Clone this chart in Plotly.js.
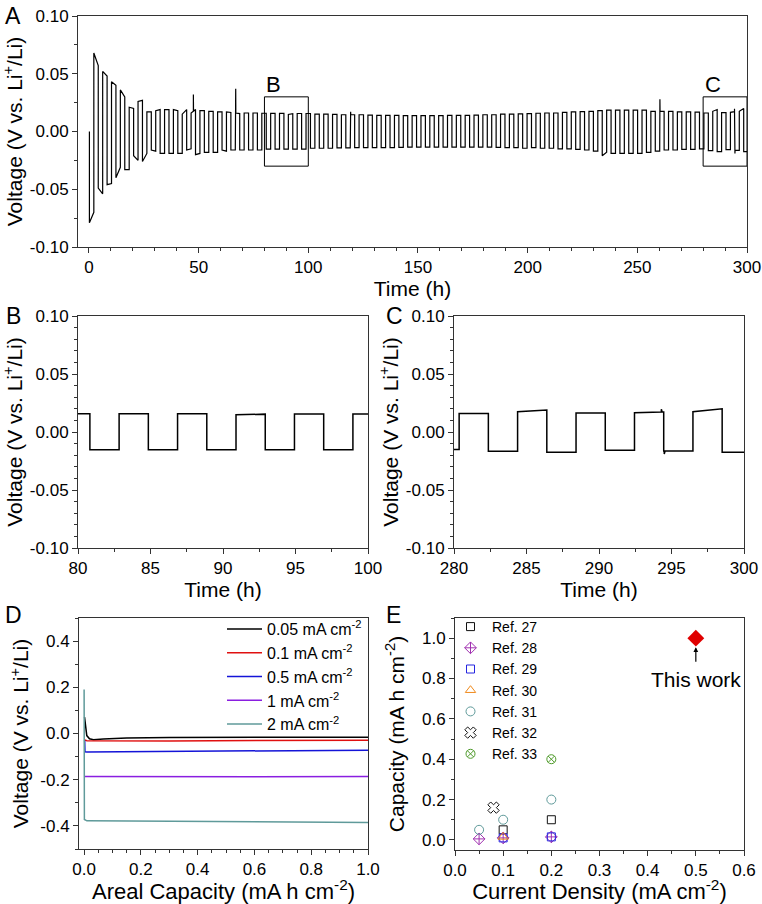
<!DOCTYPE html>
<html><head><meta charset="utf-8">
<script src="https://cdn.plot.ly/plotly-3.0.1.min.js"></script>
<style>html,body{margin:0;padding:0;background:#fff}#chart{width:762px;height:904px}</style>
</head><body><div id="chart"></div>
<script>
// ---------- Panels A/B/C : symmetric Li plating/stripping, plateau voltage per half-cycle ----------
const firstSwitchH = 0.2;    // first polarity switch (h)
const cyclePeriodH = 4.031;  // duration of one plating+stripping cycle (h)
const startV = 0.0;
const negStart = [-0.079,-0.049,-0.046,-0.040,-0.033,-0.021,-0.026,-0.016,-0.019,-0.019,
  -0.019,-0.016,-0.020,-0.018,-0.018,-0.016,-0.016,-0.016,-0.016,-0.016,
  -0.0152,-0.0152,-0.0152,-0.0152,-0.0152,-0.0145,-0.0145,-0.0145,-0.0142,-0.0142,
  -0.014,-0.014,-0.014,-0.014,-0.014,-0.0138,-0.0135,-0.0135,-0.0135,-0.0135,
  -0.0135,-0.0135,-0.0135,-0.0135,-0.0135,-0.0135,-0.0138,-0.014,-0.014,-0.0145,
  -0.014,-0.0145,-0.0145,-0.015,-0.015,-0.0155,-0.016,-0.017,-0.021,-0.019,
  -0.019,-0.019,-0.019,-0.018,-0.017,-0.016,-0.016,-0.0155,-0.0155,-0.015,
  -0.0166,-0.0175,-0.0157,-0.0163,-0.0175];
const negEnd = [-0.070,-0.054,-0.045,-0.031,-0.033,-0.025,-0.019,-0.017,-0.019,-0.019,
  -0.019,-0.015,-0.019,-0.018,-0.018,-0.017,-0.016,-0.016,-0.016,-0.016,
  -0.0152,-0.0152,-0.0152,-0.0152,-0.0152,-0.0145,-0.0145,-0.0145,-0.0142,-0.0142,
  -0.014,-0.014,-0.014,-0.014,-0.014,-0.0138,-0.0135,-0.0135,-0.0135,-0.0135,
  -0.0135,-0.0135,-0.0135,-0.0135,-0.0135,-0.0135,-0.0138,-0.014,-0.014,-0.0145,
  -0.014,-0.0145,-0.0145,-0.015,-0.015,-0.0155,-0.016,-0.017,-0.018,-0.019,
  -0.019,-0.019,-0.019,-0.018,-0.017,-0.016,-0.016,-0.0155,-0.0155,-0.015,
  -0.0166,-0.0175,-0.0157,-0.0163,-0.0175];
const posStart = [0.068,0.052,0.043,0.036,0.021,0.026,0.017,0.018,0.019,0.019,
  0.015,0.016,0.018,0.0175,0.017,0.017,0.016,0.016,0.016,0.0158,
  0.0157,0.0157,0.0148,0.0156,0.0156,0.015,0.015,0.0148,0.0145,0.0145,
  0.0145,0.0142,0.014,0.014,0.014,0.0138,0.0138,0.0138,0.0138,0.0138,
  0.014,0.014,0.014,0.0142,0.0145,0.0145,0.015,0.015,0.0152,0.0155,
  0.0158,0.016,0.016,0.0165,0.017,0.0172,0.0175,0.018,0.0185,0.0185,
  0.0185,0.0185,0.0185,0.0175,0.0175,0.0175,0.017,0.017,0.0168,0.016,
  0.0175,0.0163,0.0166,0.0175];
const posEnd = [0.057,0.048,0.040,0.030,0.020,0.027,0.017,0.019,0.019,0.018,
  0.019,0.019,0.018,0.0175,0.017,0.0165,0.0155,0.016,0.016,0.0158,
  0.0157,0.0157,0.0154,0.0156,0.0156,0.015,0.015,0.0148,0.0145,0.0145,
  0.0145,0.0142,0.014,0.014,0.014,0.0138,0.0138,0.0138,0.0138,0.0138,
  0.014,0.014,0.014,0.0142,0.0145,0.0145,0.015,0.015,0.0152,0.0155,
  0.0158,0.016,0.016,0.0165,0.017,0.0172,0.0175,0.018,0.0185,0.0185,
  0.0185,0.0185,0.0185,0.0175,0.0175,0.0175,0.017,0.017,0.0168,0.016,
  0.019,0.0163,0.0172,0.020];
const spikeT = [47.6, 66.9, 119.3, 260.3, 294.3, 294.5];
const spikeV = [0.032, 0.037, 0.017, 0.028, 0.0197, -0.019];
const zoomB = [80, 100];
const zoomC = [280, 300];
const boxV = 0.03;
const tickA = [0, 50, 100, 150, 200, 250, 300];
const tickB = [80, 85, 90, 95, 100];
const tickC = [280, 285, 290, 295, 300];
const tickV = [-0.1, -0.05, 0, 0.05, 0.1];
const tickVText = ['-0.10', '-0.05', '0.00', '0.05', '0.10'];

// ---------- Panel D : voltage profiles at different current densities ----------
const dNames = ['0.05 mA cm<sup>-2</sup>', '0.1 mA cm<sup>-2</sup>', '0.5 mA cm<sup>-2</sup>', '1 mA cm<sup>-2</sup>', '2 mA cm<sup>-2</sup>'];
const d005X = [0.0015, 0.005, 0.0094, 0.019, 0.033, 0.068, 0.15, 0.3, 0.5, 0.7, 1.0];
const d005Y = [0.071, 0.020, -0.009, -0.023, -0.027, -0.024, -0.019, -0.017, -0.016, -0.016, -0.016];
const d01X = [0.002, 0.01, 0.3, 0.6, 1.0];
const d01Y = [-0.028, -0.031, -0.032, -0.031, -0.029];
const d05X = [0.002, 0.003, 0.01, 0.3, 0.6, 1.0];
const d05Y = [-0.030, -0.079, -0.080, -0.078, -0.074, -0.072];
const d1X = [0.002, 0.3, 0.6, 1.0];
const d1Y = [-0.186, -0.187, -0.187, -0.186];
const d2X = [0.0, 0.001, 0.01, 0.25, 0.6, 1.0];
const d2Y = [0.19, -0.372, -0.378, -0.38, -0.382, -0.385];
const tickDX = [0, 0.2, 0.4, 0.6, 0.8, 1.0];
const tickDXText = ['0.0', '0.2', '0.4', '0.6', '0.8', '1.0'];
const tickDY = [-0.4, -0.2, 0, 0.2, 0.4];
const tickDYText = ['-0.4', '-0.2', '0.0', '0.2', '0.4'];

// ---------- Panel E : comparison with literature ----------
const ref27X = [0.1, 0.2], ref27Y = [0.05, 0.1];
const ref28X = [0.05, 0.1, 0.2], ref28Y = [0.005, 0.01, 0.015];
const ref29X = [0.1, 0.2], ref29Y = [0.01, 0.015];
const ref30X = [0.1], ref30Y = [0.015];
const ref31X = [0.05, 0.1, 0.2], ref31Y = [0.05, 0.1, 0.2];
const ref32X = [0.08], ref32Y = [0.16];
const ref33X = [0.2], ref33Y = [0.4];
const thisX = [0.5], thisY = [1.0];
const tickEX = [0, 0.1, 0.2, 0.3, 0.4, 0.5, 0.6];
const tickEXText = ['0.0', '0.1', '0.2', '0.3', '0.4', '0.5', '0.6'];
const tickEY = [0, 0.2, 0.4, 0.6, 0.8, 1.0];
const tickEYText = ['0.0', '0.2', '0.4', '0.6', '0.8', '1.0'];

// ---------- build the cycling trace from the half-cycle plateaus ----------
const tA = [firstSwitchH], vA = [startV];
function addHalf(t0, t1, v0, v1) {
  tA.push(t0); vA.push(v0);
  for (let i = 0; i < spikeT.length; i++) {
    const ts = spikeT[i];
    if (ts > t0 && ts < t1) {
      const p = v0 + (v1 - v0) * (ts - t0) / (t1 - t0);
      tA.push(ts, ts, ts + 0.06); vA.push(p, spikeV[i], p);
    }
  }
  tA.push(t1); vA.push(v1);
}
for (let k = 0; k < negStart.length; k++) {
  const d = firstSwitchH + k * cyclePeriodH, u = d + cyclePeriodH / 2, n = d + cyclePeriodH;
  addHalf(d, u, negStart[k], negEnd[k]);
  if (k < posStart.length) addHalf(u, n, posStart[k], posEnd[k]);
}

const W = 762, H = 904;
const dx = (a, b) => [a / W, b / W];
const dy = (top, bot) => [1 - bot / H, 1 - top / H];
const FONT = 'Liberation Sans, Arial, sans-serif';
const tickF = {family: FONT, size: 17, color: '#000'};
const titleF = {family: FONT, size: 21, color: '#000'};
const titleF2 = {family: FONT, size: 22, color: '#000'};
const minorT = (d) => ({dtick: d, tick0: 0, ticks: 'outside', ticklen: 3, tickcolor: '#333'});
function ax(extra) {
  return Object.assign({
    showline: true, mirror: true, linecolor: '#333', linewidth: 1,
    ticks: 'outside', ticklen: 5, tickwidth: 1, tickcolor: '#333',
    showgrid: false, zeroline: false, tickfont: tickF, fixedrange: true,
    tickmode: 'array'
  }, extra);
}

const traces = [
  {x: tA, y: vA, xaxis: 'x', yaxis: 'y', mode: 'lines', line: {color: '#000', width: 1.2}, showlegend: false},
  {x: tA, y: vA, xaxis: 'x2', yaxis: 'y2', mode: 'lines', line: {color: '#000', width: 1.5}, showlegend: false},
  {x: tA, y: vA, xaxis: 'x3', yaxis: 'y3', mode: 'lines', line: {color: '#000', width: 1.5}, showlegend: false},
  {x: d005X, y: d005Y, name: dNames[0], xaxis: 'x4', yaxis: 'y4', mode: 'lines', line: {color: '#000000', width: 1.5}, legend: 'legend'},
  {x: d01X, y: d01Y, name: dNames[1], xaxis: 'x4', yaxis: 'y4', mode: 'lines', line: {color: '#e01010', width: 1.5}, legend: 'legend'},
  {x: d05X, y: d05Y, name: dNames[2], xaxis: 'x4', yaxis: 'y4', mode: 'lines', line: {color: '#1414d8', width: 1.5}, legend: 'legend'},
  {x: d1X, y: d1Y, name: dNames[3], xaxis: 'x4', yaxis: 'y4', mode: 'lines', line: {color: '#8a1ee0', width: 1.5}, legend: 'legend'},
  {x: d2X, y: d2Y, name: dNames[4], xaxis: 'x4', yaxis: 'y4', mode: 'lines', line: {color: '#5f9a9a', width: 1.5}, legend: 'legend'},
  {x: ref27X, y: ref27Y, name: 'Ref. 27', xaxis: 'x5', yaxis: 'y5', mode: 'markers', legend: 'legend2',
   marker: {symbol: 'square-open', size: 8, color: '#111', line: {width: 1}}},
  {x: ref28X, y: ref28Y, name: 'Ref. 28', xaxis: 'x5', yaxis: 'y5', mode: 'markers', legend: 'legend2',
   marker: {symbol: 'diamond-cross-open', size: 9, color: '#a030b0', line: {width: 1}}},
  {x: ref29X, y: ref29Y, name: 'Ref. 29', xaxis: 'x5', yaxis: 'y5', mode: 'markers', legend: 'legend2',
   marker: {symbol: 'square-open', size: 8, color: '#2424e0', line: {width: 1}}},
  {x: ref30X, y: ref30Y, name: 'Ref. 30', xaxis: 'x5', yaxis: 'y5', mode: 'markers', legend: 'legend2',
   marker: {symbol: 'triangle-up-open', size: 9, color: '#f08a1c', line: {width: 1}}},
  {x: ref31X, y: ref31Y, name: 'Ref. 31', xaxis: 'x5', yaxis: 'y5', mode: 'markers', legend: 'legend2',
   marker: {symbol: 'circle-open', size: 9, color: '#5f9a9a', line: {width: 1}}},
  {x: ref32X, y: ref32Y, name: 'Ref. 32', xaxis: 'x5', yaxis: 'y5', mode: 'markers', legend: 'legend2',
   marker: {symbol: 'x-open', size: 10, color: '#111', line: {width: 1}}},
  {x: ref33X, y: ref33Y, name: 'Ref. 33', xaxis: 'x5', yaxis: 'y5', mode: 'markers', legend: 'legend2',
   marker: {symbol: 'circle-x-open', size: 9, color: '#4e9a2a', line: {width: 1}}},
  {x: thisX, y: thisY, name: 'This work', xaxis: 'x5', yaxis: 'y5', mode: 'markers', showlegend: false,
   marker: {symbol: 'diamond', size: 13, color: '#e00000'}}
];

const ytitle = 'Voltage (V vs. Li<sup>+</sup>/Li)';
const lab = (t, x, y) => ({text: t, xref: 'paper', yref: 'paper', x: x / W, y: 1 - y / H, xanchor: 'center', yanchor: 'middle',
  showarrow: false, font: {family: FONT, size: 23, color: '#000'}});
const layout = {
  width: W, height: H, margin: {l: 0, r: 0, t: 0, b: 0},
  paper_bgcolor: '#fff', plot_bgcolor: '#fff',
  font: {family: FONT, color: '#000'},
  xaxis: ax({domain: dx(78, 747), anchor: 'y', range: [-5, 300], tickvals: tickA, minor: minorT(10),
    title: {text: 'Time (h)', font: titleF, standoff: 1}}),
  yaxis: ax({domain: dy(16, 247), anchor: 'x', range: [-0.1, 0.1], tickvals: tickV, ticktext: tickVText, minor: minorT(0.025),
    title: {text: ytitle, font: titleF, standoff: 3}}),
  xaxis2: ax({domain: dx(78, 368), anchor: 'y2', range: zoomB, tickvals: tickB, minor: minorT(2.5),
    title: {text: 'Time (h)', font: titleF, standoff: 1}}),
  yaxis2: ax({domain: dy(316, 548), anchor: 'x2', range: [-0.1, 0.1], tickvals: tickV, ticktext: tickVText, minor: minorT(0.01),
    title: {text: ytitle, font: titleF, standoff: 4}}),
  xaxis3: ax({domain: dx(454, 744), anchor: 'y3', range: zoomC, tickvals: tickC, minor: minorT(2.5),
    title: {text: 'Time (h)', font: titleF, standoff: 1}}),
  yaxis3: ax({domain: dy(316, 548), anchor: 'x3', range: [-0.1, 0.1], tickvals: tickV, ticktext: tickVText, minor: minorT(0.01),
    title: {text: ytitle, font: titleF, standoff: 1}}),
  xaxis4: ax({domain: dx(79, 368), anchor: 'y4', range: [-0.018, 1.0], tickvals: tickDX, ticktext: tickDXText, minor: minorT(0.05),
    title: {text: 'Areal Capacity (mA h cm<sup>-2</sup>)', font: titleF2, standoff: 3}}),
  yaxis4: ax({domain: dy(618, 849), anchor: 'x4', range: [-0.5, 0.5], tickvals: tickDY, ticktext: tickDYText, minor: minorT(0.1),
    title: {text: ytitle, font: titleF, standoff: 5}}),
  xaxis5: ax({domain: dx(455, 744), anchor: 'y5', range: [0, 0.6], tickvals: tickEX, ticktext: tickEXText, minor: minorT(0.05),
    title: {text: 'Current Density (mA cm<sup>-2</sup>)', font: titleF2, standoff: 6}}),
  yaxis5: ax({domain: dy(618, 850), anchor: 'x5', range: [-0.05, 1.1], tickvals: tickEY, ticktext: tickEYText, minor: minorT(0.1),
    title: {text: 'Capacity (mA h cm<sup>-2</sup>)', font: titleF, standoff: 11}}),
  legend: {x: 222 / W, y: 1 - 612 / H, xanchor: 'left', yanchor: 'top', bgcolor: 'rgba(0,0,0,0)', itemwidth: 35,
    font: {family: FONT, size: 16, color: '#000'}, tracegroupgap: 0},
  legend2: {x: 449 / W, y: 1 - 611 / H, xanchor: 'left', yanchor: 'top', bgcolor: 'rgba(0,0,0,0)', itemwidth: 33,
    font: {family: FONT, size: 14, color: '#000'}, tracegroupgap: 0},
  shapes: [
    {type: 'rect', xref: 'x', yref: 'y', x0: zoomB[0], x1: zoomB[1], y0: -boxV, y1: boxV, line: {color: '#000', width: 1}},
    {type: 'rect', xref: 'x', yref: 'y', x0: zoomC[0], x1: zoomC[1], y0: -boxV, y1: boxV, line: {color: '#000', width: 1}}
  ],
  annotations: [
    lab('A', 13, 16), lab('B', 13, 316), lab('C', 394, 316), lab('D', 13, 615), lab('E', 393, 615),
    {text: 'B', xref: 'x', yref: 'y', x: zoomB[0], y: boxV, xanchor: 'left', yanchor: 'bottom', yshift: -2, showarrow: false, font: {family: FONT, size: 22}},
    {text: 'C', xref: 'x', yref: 'y', x: zoomC[0], y: boxV, xanchor: 'left', yanchor: 'bottom', yshift: -2, showarrow: false, font: {family: FONT, size: 22}},
    {text: '', xref: 'x5', yref: 'y5', x: thisX[0], y: 0.955, ax: 0, ay: 16, showarrow: true, arrowhead: 2, arrowsize: 0.8, arrowwidth: 1.2, arrowcolor: '#000'},
    {text: 'This work', xref: 'x5', yref: 'y5', x: thisX[0], y: 0.795, showarrow: false, font: {family: FONT, size: 21}}
  ]
};

Plotly.newPlot('chart', traces, layout, {staticPlot: true, displayModeBar: false});
</script>
</body></html>
